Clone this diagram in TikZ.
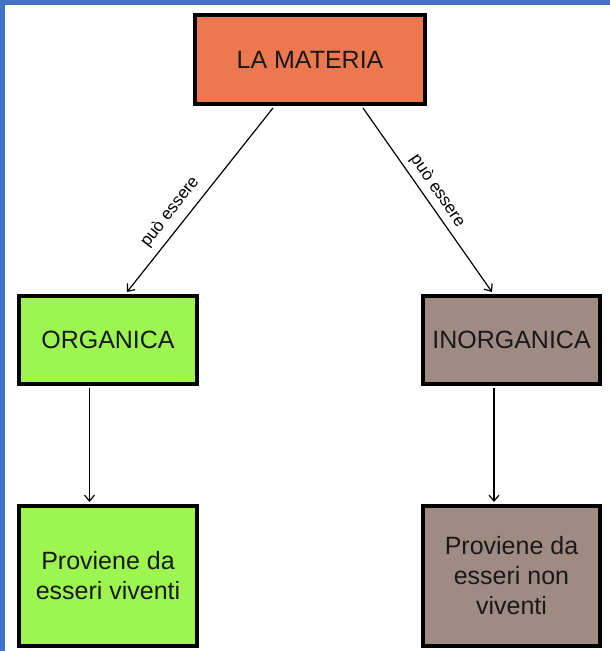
\documentclass[tikz,border=0pt]{standalone}
\usepackage{fontspec}
\setmainfont{Liberation Sans}
\usetikzlibrary{arrows.meta}
\definecolor{borderblue}{RGB}{68,114,196}
\definecolor{orangefill}{RGB}{237,120,80}
\definecolor{greenfill}{RGB}{157,245,80}
\definecolor{brownfill}{RGB}{160,139,130}
\begin{document}
\begin{tikzpicture}[x=1pt,y=1pt,
  conceptbox/.style={draw=black, line width=4pt, inner sep=0pt, align=center,
    font=\fontsize{25}{30}\selectfont, text=black!90},
  link/.style={line width=1.2pt, -{Straight Barb[length=6pt,width=10pt,line width=1.2pt]}},
  linklabel/.style={font=\fontsize{17}{19}\selectfont, inner sep=0pt}]
\useasboundingbox (0,0) rectangle (610,651);
\fill[white] (0,0) rectangle (610,651);
\fill[borderblue] (0,646) rectangle (610,651);
\fill[borderblue] (0,0) rectangle (5,651);

\node[conceptbox, fill=orangefill, minimum width=230pt, minimum height=89pt] (top) at (310,591.5) {LA MATERIA};
\node[conceptbox, fill=greenfill, minimum width=178pt, minimum height=88pt] (org) at (108,311) {ORGANICA};
\node[conceptbox, fill=brownfill, minimum width=177pt, minimum height=88pt] (inorg) at (511.5,311) {INORGANICA};
\node[conceptbox, fill=greenfill, minimum width=178pt, minimum height=140pt] (orgdesc) at (108,75) {Proviene da\\esseri viventi};
\node[conceptbox, fill=brownfill, minimum width=177pt, minimum height=140pt] (inorgdesc) at (511.5,75) {Proviene da\\esseri non\\viventi};

\draw[link] ([xshift=-37pt,yshift=-2pt]top.south) -- ([xshift=19pt,yshift=2pt]org.north);
\draw[link] ([xshift=53pt,yshift=-2pt]top.south) -- ([xshift=-19.5pt,yshift=2pt]inorg.north);
\draw[link] ([xshift=-18.5pt,yshift=-2pt]org.south) -- ([xshift=-18.5pt,yshift=2pt]orgdesc.north);
\draw[link] ([xshift=-17.5pt,yshift=-2pt]inorg.south) -- ([xshift=-17.5pt,yshift=2pt]inorgdesc.north);

\node[linklabel, rotate=52.2] (lab1) at (170,439) {può essere};
\node[linklabel, rotate=-55.6] (lab2) at (437.5,460) {può essere};
\end{tikzpicture}
\end{document}
